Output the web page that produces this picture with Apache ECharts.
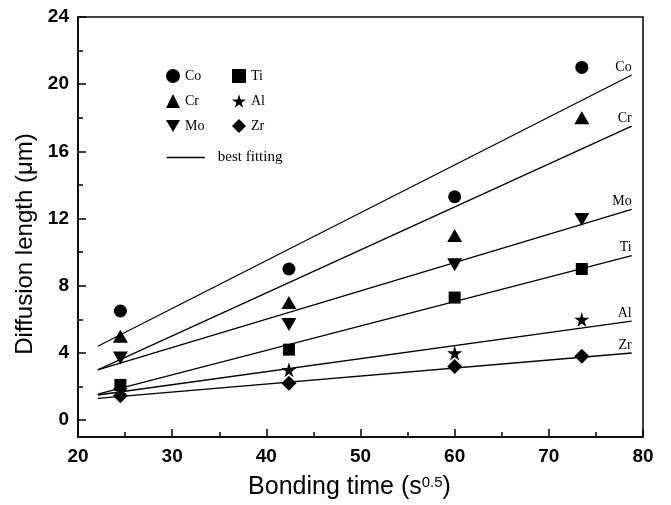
<!DOCTYPE html>
<html>
<head>
<meta charset="utf-8">
<script src="https://cdn.jsdelivr.net/npm/echarts@6/dist/echarts.min.js"></script>
<style>
  html, body { margin: 0; padding: 0; background: #fff; }
  #main { width: 671px; height: 505px; }
</style>
</head>
<body>
<div id="main"></div>
<script>
// bonding time values (s^0.5)
var timeList = [24.5, 42.4, 60.0, 73.5];

// measured diffusion length (um)
var coList = [6.5, 9.0, 13.3, 21.0];
var crList = [5.0, 7.0, 11.0, 18.0];
var moList = [3.7, 5.7, 9.25, 11.95];
var tiList = [2.1, 4.2, 7.3, 9.0];
var alList = [1.8, 3.0, 4.0, 6.0];
var zrList = [1.45, 2.2, 3.2, 3.8];

// best fitting lines, read at both ends
var fitTime = [22.1, 78.8];
var coFit = [4.4, 20.55];
var crFit = [3.0, 17.5];
var moFit = [3.0, 12.55];
var tiFit = [1.55, 9.8];
var alFit = [1.5, 5.9];
var zrFit = [1.3, 4.0];

var yLabels = [0, 4, 8, 12, 16, 20, 24];
var yMinor = [2, 6, 10, 14, 18, 22];

var serif = 'Liberation Serif';
var sans = 'Liberation Sans';

var downTri = 'path://M0,0L20,0L10,17Z';
var star = 'path://M50,0L61,35L98,35L68,57L79,91L50,70L21,91L32,57L2,35L39,35Z';

function pairs(xs, ys) {
  var out = [];
  for (var i = 0; i < xs.length; i++) out.push([xs[i], ys[i]]);
  return out;
}

function fitLine(name, ys) {
  return {
    name: 'best fitting',
    type: 'line',
    data: pairs(fitTime, ys),
    symbol: 'none',
    lineStyle: {color: '#000', width: 1.3},
    itemStyle: {color: '#000'},
    silent: true,
    z: 2,
    endLabel: {
      show: true,
      formatter: name,
      color: '#000',
      fontFamily: serif,
      fontSize: 14,
      align: 'right',
      verticalAlign: 'bottom',
      distance: 0,
      offset: [0, -1]
    }
  };
}

function points(name, ys, symbol, size) {
  return {
    name: name,
    type: 'scatter',
    data: pairs(timeList, ys),
    symbol: symbol,
    symbolSize: size,
    itemStyle: {color: '#000', opacity: 1},
    z: 3
  };
}

var legendText = {fontFamily: serif, fontSize: 14, color: '#000'};

var myChart = echarts.init(document.getElementById('main'));
myChart.setOption({
  backgroundColor: '#fff',
  animation: false,
  grid: {
    left: 78, top: 17, right: 28, bottom: 68,
    show: true, borderColor: '#000', borderWidth: 1.5, backgroundColor: 'transparent'
  },
  legend: [
    {
      data: ['Co', 'Cr', 'Mo'],
      orient: 'vertical', left: 161, top: 64,
      itemWidth: 14, itemHeight: 14, itemGap: 11,
      itemStyle: {opacity: 1},
      textStyle: legendText
    },
    {
      data: ['Ti', 'Al', 'Zr'],
      orient: 'vertical', left: 227, top: 64,
      itemWidth: 14, itemHeight: 14, itemGap: 11,
      itemStyle: {opacity: 1},
      textStyle: legendText
    },
    {
      data: ['best fitting'],
      left: 161, top: 145,
      itemWidth: 38, itemHeight: 14,
      itemStyle: {opacity: 0},
      lineStyle: {color: '#000', width: 1.6, opacity: 1},
      textStyle: {fontFamily: serif, fontSize: 15, color: '#000', padding: [0, 0, 0, 8]}
    }
  ],
  xAxis: {
    type: 'value',
    min: 20, max: 80, interval: 10,
    name: 'Bonding time (s{sup|0.5})',
    nameLocation: 'middle',
    nameGap: 38,
    nameTextStyle: {
      fontFamily: sans, fontSize: 25, color: '#000',
      padding: [0, 22, 0, 0],
      rich: {sup: {fontFamily: sans, fontSize: 15, color: '#000', verticalAlign: 'top', padding: [0, 0, 10, 0]}}
    },
    axisLine: {onZero: false, lineStyle: {color: '#000', width: 1.5}},
    axisTick: {inside: true, length: 8, lineStyle: {color: '#000', width: 1.5}},
    minorTick: {show: true, splitNumber: 2, length: 5, lineStyle: {color: '#000', width: 1.5}},
    axisLabel: {fontFamily: sans, fontWeight: 'bold', fontSize: 19, color: '#000', margin: 10},
    splitLine: {show: false}
  },
  yAxis: [
    {
      type: 'value',
      min: -1, max: 24,
      name: 'Diffusion length (\u03bcm)',
      nameLocation: 'middle',
      nameGap: 35,
      nameTextStyle: {fontFamily: sans, fontSize: 24, color: '#000', padding: [0, 34, 0, 0]},
      axisLine: {onZero: false, lineStyle: {color: '#000', width: 1.5}},
      axisTick: {inside: true, length: 8, customValues: yLabels, lineStyle: {color: '#000', width: 1.5}},
      axisLabel: {fontFamily: sans, fontWeight: 'bold', fontSize: 19, color: '#000', margin: 9, customValues: yLabels},
      splitLine: {show: false}
    },
    {
      type: 'value',
      min: -1, max: 24,
      position: 'left',
      axisLine: {show: false, onZero: false},
      axisTick: {inside: true, length: 5, customValues: yMinor, lineStyle: {color: '#000', width: 1.5}},
      axisLabel: {show: false},
      splitLine: {show: false}
    }
  ],
  series: [
    fitLine('Co', coFit),
    fitLine('Cr', crFit),
    fitLine('Mo', moFit),
    fitLine('Ti', tiFit),
    fitLine('Al', alFit),
    fitLine('Zr', zrFit),
    points('Co', coList, 'circle', 13),
    points('Cr', crList, 'triangle', [15, 13]),
    points('Mo', moList, downTri, [15, 13]),
    points('Ti', tiList, 'rect', 12),
    points('Al', alList, star, 15),
    points('Zr', zrList, 'diamond', [15, 15])
  ]
});
</script>
</body>
</html>
